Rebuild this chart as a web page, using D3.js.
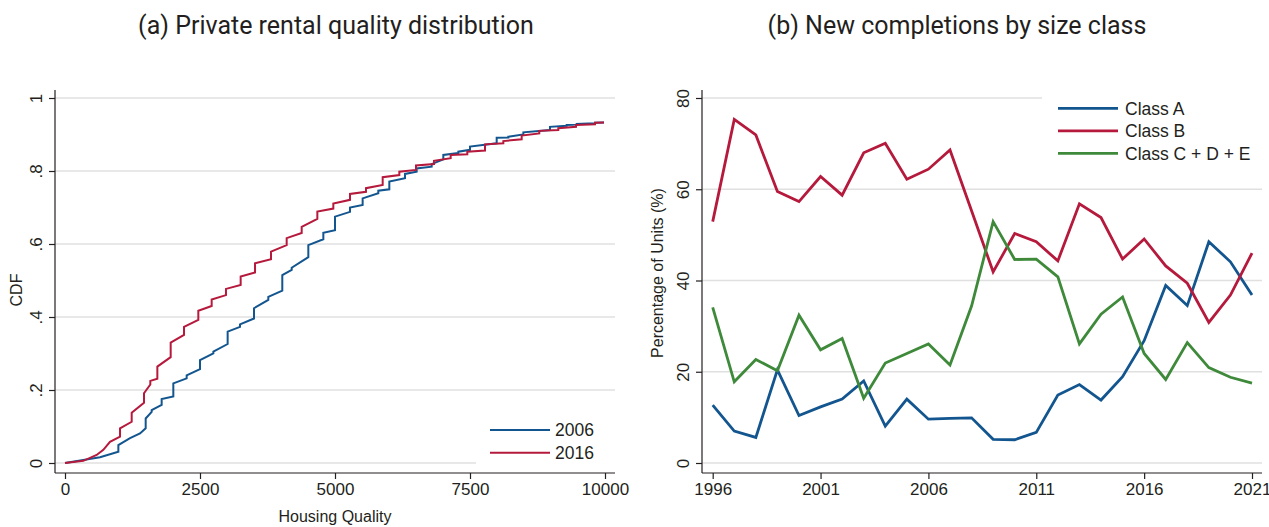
<!DOCTYPE html>
<html>
<head>
<meta charset="utf-8">
<script src="https://cdn.jsdelivr.net/npm/d3@7"></script>
<style>
  body { margin: 0; background: #fff; }
  text { font-family: "Liberation Sans", Arial, sans-serif; fill: #231f20; }
  .title { font-family: Roboto, "Liberation Sans", sans-serif; font-size: 25px; }
</style>
</head>
<body>
<div id="chart"></div>
<script>
// ---- panel (a): ECDF jumps [quality, cdf before jump, cdf after jump]
const steps2006 = [
  [0, 0, 0], [648, 0.016, 0.016], [988, 0.031, 0.049], [1204, 0.068, 0.068], [1389, 0.081, 0.081],
  [1494, 0.095, 0.122], [1605, 0.14, 0.145], [1790, 0.159, 0.175], [2006, 0.182, 0.218],
  [2253, 0.232, 0.24], [2500, 0.257, 0.282], [2747, 0.3, 0.305], [3012, 0.326, 0.36],
  [3241, 0.373, 0.38], [3500, 0.396, 0.424], [3765, 0.447, 0.455], [4024, 0.472, 0.515],
  [4198, 0.529, 0.535], [4506, 0.564, 0.597], [4784, 0.613, 0.631], [5000, 0.638, 0.675],
  [5278, 0.688, 0.7], [5512, 0.707, 0.725], [5802, 0.739, 0.746], [6006, 0.75, 0.771],
  [6296, 0.78, 0.792], [6512, 0.798, 0.807], [6790, 0.812, 0.819], [7006, 0.832, 0.844],
  [7284, 0.849, 0.853], [7500, 0.858, 0.867], [7994, 0.876, 0.891], [8210, 0.892, 0.894],
  [8488, 0.9, 0.906], [8981, 0.912, 0.921], [9290, 0.924, 0.926], [9475, 0.927, 0.929],
  [9815, 0.931, 0.932], [9981, 0.933, 0.933]
];
const steps2016 = [
  [0, 0, 0], [340, 0.006, 0.006], [586, 0.022, 0.022], [710, 0.036, 0.036], [833, 0.058, 0.058],
  [1019, 0.072, 0.095], [1235, 0.113, 0.138], [1463, 0.165, 0.191], [1580, 0.215, 0.225],
  [1710, 0.231, 0.264], [1957, 0.29, 0.33], [2204, 0.351, 0.373], [2469, 0.392, 0.417],
  [2716, 0.43, 0.448], [2981, 0.46, 0.477], [3253, 0.488, 0.511], [3519, 0.522, 0.547],
  [3815, 0.558, 0.579], [4105, 0.597, 0.616], [4383, 0.63, 0.647], [4673, 0.669, 0.689],
  [4969, 0.697, 0.711], [5278, 0.721, 0.737], [5574, 0.743, 0.753], [5883, 0.762, 0.783],
  [6191, 0.789, 0.798], [6500, 0.803, 0.815], [6833, 0.819, 0.828], [7142, 0.835, 0.844],
  [7450, 0.846, 0.853], [7778, 0.856, 0.873], [8117, 0.876, 0.882], [8457, 0.887, 0.897],
  [8783, 0.903, 0.91], [9135, 0.912, 0.917], [9463, 0.921, 0.926], [9815, 0.928, 0.932],
  [9981, 0.933, 0.933]
];
const cdfYears = ["2006", "2016"];
const qualityTicks = [0, 2500, 5000, 7500, 10000];
const cdfTicks = [0, 0.2, 0.4, 0.6, 0.8, 1];

// ---- panel (b): share of new completions (%)
const years = d3.range(1996, 2022);
const classA = [12.7, 7.0, 5.6, 20.4, 10.4, 12.3, 14.0, 18.0, 8.1, 14.0, 9.6, 9.8, 9.9, 5.2, 5.1, 6.7,
  14.9, 17.2, 13.8, 18.9, 26.8, 38.9, 34.5, 48.5, 44.1, 36.8];
const classB = [52.9, 75.3, 71.9, 59.5, 57.3, 62.8, 58.7, 68.0, 70.1, 62.2, 64.4, 68.6, 55.3, 41.9, 50.3, 48.5,
  44.3, 56.8, 53.8, 44.7, 49.1, 43.2, 39.4, 30.8, 36.8, 46.0];
const classCDE = [34.1, 17.8, 22.7, 20.2, 32.4, 24.8, 27.3, 14.2, 21.9, 24.0, 26.1, 21.5, 34.4, 52.9, 44.6, 44.7,
  40.8, 26.1, 32.6, 36.4, 24.0, 18.3, 26.4, 20.9, 18.8, 17.5];
const seriesNames = ["Class A", "Class B", "Class C + D + E"];
const yearTicks = [1996, 2001, 2006, 2011, 2016, 2021];
const pctTicks = [0, 20, 40, 60, 80];

const BLUE = "#12558f", RED = "#b5193c", GREEN = "#3e8a3a", GRID = "#e0e0e0", INK = "#231f20";

const svg = d3.select("#chart").append("svg")
  .attr("width", 1269).attr("height", 527);

function frame(g, x, y, xTicks, yTicks, yFmt, x0, x1, yAxisX, yLabelX) {
  g.append("g").selectAll("line").data(yTicks).join("line")
    .attr("x1", x0).attr("x2", x1)
    .attr("y1", d => y(d)).attr("y2", d => y(d))
    .attr("stroke", GRID).attr("stroke-width", 1.4);
  const xa = g.append("g").attr("transform", "translate(0,473)")
    .call(d3.axisBottom(x).tickValues(xTicks).tickSize(6).tickPadding(4).tickFormat(d3.format("d")));
  const ya = g.append("g").attr("transform", `translate(${yAxisX},0)`)
    .call(d3.axisLeft(y).tickValues(yTicks).tickSize(6).tickFormat(yFmt));
  [xa, ya].forEach(a => {
    a.select(".domain").attr("stroke", INK).attr("stroke-width", 1.2);
    a.selectAll(".tick line").attr("stroke", INK).attr("stroke-width", 1.2);
    a.selectAll("text").attr("font-size", 17).attr("fill", INK)
      .attr("font-family", '"Liberation Sans", Arial, sans-serif');
  });
  xa.select(".domain").attr("d", `M${yAxisX},0H${x1}`);
  ya.select(".domain").attr("d", `M0,${y.range()[1] - 8}V473`);
  ya.selectAll(".tick text")
    .attr("x", null).attr("dy", null)
    .attr("transform", `translate(${yLabelX - yAxisX},0) rotate(-90)`)
    .attr("text-anchor", "middle").attr("dominant-baseline", "central");
}

// ---------- panel (a)
{
  const g = svg.append("g");
  const x = d3.scaleLinear().domain([0, 10000]).range([65, 605]);
  const y = d3.scaleLinear().domain([0, 1]).range([463, 98]);
  const fmt = d => d === 0 ? "0" : d === 1 ? "1" : d3.format(".1f")(d).replace(/^0/, "");
  frame(g, x, y, qualityTicks, cdfTicks, fmt, 55, 615, 55, 36);

  const line = d3.line().x(d => x(d[0])).y(d => y(d[1]));
  const toPts = s => s.flatMap(d => [[d[0], d[1]], [d[0], d[2]]]);
  [[steps2006, BLUE], [steps2016, RED]].forEach(([s, c]) => {
    g.append("path").attr("d", line(toPts(s)))
      .attr("fill", "none").attr("stroke", c).attr("stroke-width", 2)
      .attr("stroke-linejoin", "miter");
  });

  // legend
  const lg = g.append("g");
  lg.append("rect").attr("x", 476).attr("y", 417).attr("width", 139).attr("height", 52).attr("fill", "#fff");
  [BLUE, RED].forEach((c, i) => {
    const yy = 430 + i * 22.7;
    lg.append("line").attr("x1", 490).attr("x2", 550).attr("y1", yy).attr("y2", yy)
      .attr("stroke", c).attr("stroke-width", 2);
    lg.append("text").attr("x", 555).attr("y", yy).attr("dy", "0.36em")
      .attr("font-size", 17.5).text(cdfYears[i]);
  });

  g.append("text").attr("x", 335).attr("y", 522).attr("text-anchor", "middle")
    .attr("font-size", 16).text("Housing Quality");
  g.append("text").attr("transform", "translate(22,290) rotate(-90)").attr("text-anchor", "middle")
    .attr("font-size", 16).text("CDF");
  g.append("text").attr("class", "title").attr("x", 336).attr("y", 34).attr("text-anchor", "middle")
    .text("(a) Private rental quality distribution");
}

// ---------- panel (b)
{
  const g = svg.append("g");
  const x = d3.scaleLinear().domain([1996, 2021]).range([712.7, 1252]);
  const y = d3.scaleLinear().domain([0, 80]).range([463, 98]);
  frame(g, x, y, yearTicks, pctTicks, d3.format("d"), 702, 1262, 702, 683);

  const line = d3.line().x((d, i) => x(years[i])).y(d => y(d));
  [[classA, BLUE], [classB, RED], [classCDE, GREEN]].forEach(([s, c]) => {
    g.append("path").attr("d", line(s))
      .attr("fill", "none").attr("stroke", c).attr("stroke-width", 2.8)
      .attr("stroke-linejoin", "miter");
  });

  const lg = g.append("g");
  lg.append("rect").attr("x", 1042).attr("y", 90).attr("width", 220).attr("height", 78).attr("fill", "#fff");
  [BLUE, RED, GREEN].forEach((c, i) => {
    const yy = 108.3 + i * 22.5;
    lg.append("line").attr("x1", 1058).attr("x2", 1118).attr("y1", yy).attr("y2", yy)
      .attr("stroke", c).attr("stroke-width", 2.8);
    lg.append("text").attr("x", 1125).attr("y", yy).attr("dy", "0.36em")
      .attr("font-size", 17.5).text(seriesNames[i]);
  });

  g.append("text").attr("transform", "translate(663,273) rotate(-90)").attr("text-anchor", "middle")
    .attr("font-size", 16).text("Percentage of Units (%)");
  g.append("text").attr("class", "title").attr("x", 957).attr("y", 34).attr("text-anchor", "middle")
    .text("(b) New completions by size class");
}
</script>
</body>
</html>
